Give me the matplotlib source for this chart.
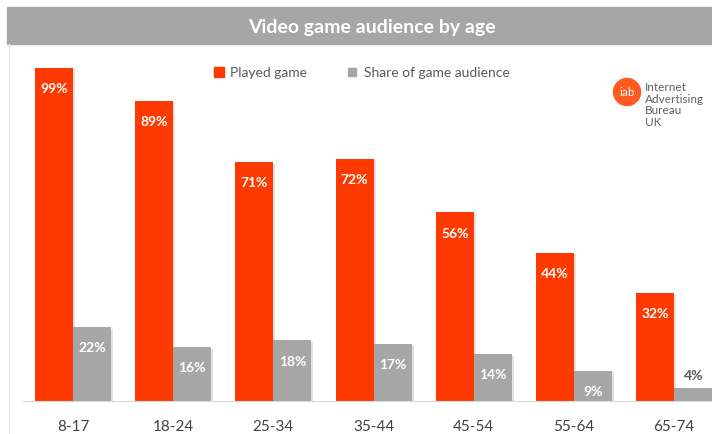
import numpy as np
import matplotlib.pyplot as plt
from matplotlib.patches import Rectangle, Ellipse

# ---------------- DATA ----------------
ages = ["8-17", "18-24", "25-34", "35-44", "45-54", "55-64", "65-74"]
played = [99, 89, 71, 72, 56, 44, 32]
share = [22, 16, 18, 17, 14, 9, 4]

RED = "#FF3A00"
GREY = "#A6A6A6"

plt.rcParams['font.family'] = ['Lato', 'DejaVu Sans']

fig = plt.figure(figsize=(7.12, 4.35), dpi=100)
fig.patch.set_facecolor("white")

# title band
fig.patches.append(Rectangle((7 / 712, 1 - 45 / 435), 1, 37 / 435,
                             transform=fig.transFigure, color=GREY, zorder=0))
fig.text(372 / 712, 1 - 27 / 435, "Video game audience by age", color="white",
         fontsize=14, fontweight="bold", ha="center", va="center")

# left frame line
fig.add_artist(plt.Line2D([9 / 712, 9 / 712], [0, 1 - 45 / 435],
                          transform=fig.transFigure, color="#e6e6e6", lw=1))

ax = fig.add_axes([0, 33 / 435, 1, (402 - 45) / 435])
x = np.arange(len(ages))
w = 0.38

# soft shadows
ax.bar(x - w / 2 + 0.02, np.array(played) - 0.5, w, color="#e2e2e2", zorder=1)
ax.bar(x + w / 2 + 0.02, np.array(share) - 0.5, w, color="#e2e2e2", zorder=1)

ax.bar(x - w / 2, played, w, color=RED, zorder=2)
ax.bar(x + w / 2, share, w, color=GREY, zorder=2)

for i in range(len(ages)):
    ax.text(x[i] - w / 2, played[i] - 6, f"{played[i]}%", color="white",
            fontsize=10, fontweight="bold", ha="center", va="center", zorder=3)
    if share[i] >= 8:
        ax.text(x[i] + w / 2, share[i] - 6, f"{share[i]}%", color="white",
                fontsize=10, fontweight="bold", ha="center", va="center", zorder=3)
    else:
        ax.text(x[i] + w / 2, share[i] + 3.8, f"{share[i]}%", color="#595959",
                fontsize=10, fontweight="bold", ha="center", va="center", zorder=3)

ax.set_xlim(-73 / 100.2, (712 - 73) / 100.2)
ax.set_ylim(0, 106)
ax.set_xticks(x)
ax.set_xticklabels(ages, fontsize=11, color="#404040")
ax.tick_params(axis="x", length=0, pad=13)
ax.set_yticks([])
for s in ["top", "right", "left"]:
    ax.spines[s].set_visible(False)
ax.spines["bottom"].set_color("#d9d9d9")
ax.spines["bottom"].set_bounds(-0.5, 6.5)
ax.patch.set_alpha(0)

# legend
fig.patches.append(Rectangle((214 / 712, 1 - 78 / 435), 10 / 712, 10 / 435,
                             transform=fig.transFigure, color=RED))
fig.text(230 / 712, 1 - 73 / 435, "Played game", color="#595959",
         fontsize=10, va="center")
fig.patches.append(Rectangle((348 / 712, 1 - 77 / 435), 8 / 712, 8 / 435,
                             transform=fig.transFigure, color=GREY))
fig.text(364 / 712, 1 - 73 / 435, "Share of game audience", color="#595959",
         fontsize=10, va="center")

# iab logo
fig.patches.append(Ellipse((627 / 712, 1 - 93 / 435), 27 / 712, 27 / 435,
                           transform=fig.transFigure, color="#FF5A1F"))
fig.text(627 / 712, 1 - 93 / 435, "iab", color="white", fontsize=8.5,
         ha="center", va="center")
fig.text(645 / 712, 1 - 105 / 435, "Internet\nAdvertising\nBureau\nUK",
         color="#606060", fontsize=8.5, va="center", linespacing=1.05)

fig.savefig("out.png", dpi=100)
